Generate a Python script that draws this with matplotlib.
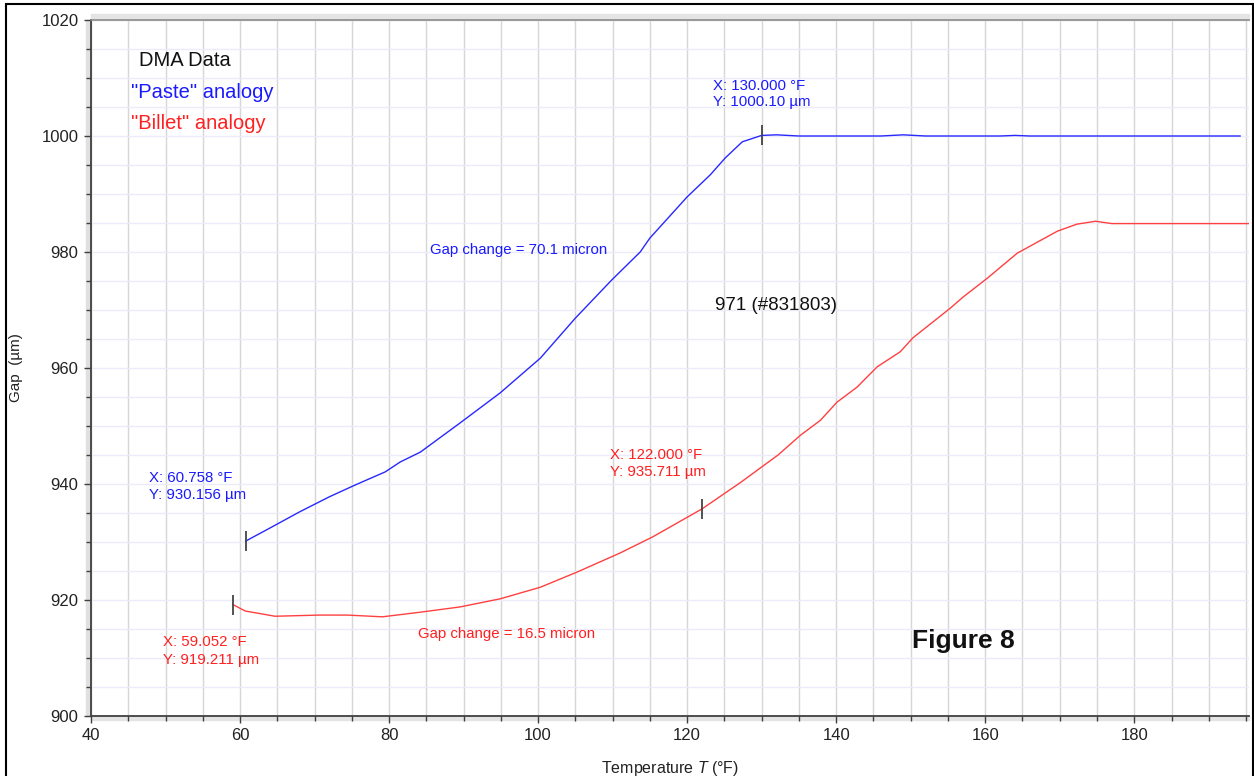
import numpy as np
import matplotlib
matplotlib.use('Agg')
import matplotlib.pyplot as plt
from matplotlib.patches import Rectangle
from matplotlib.ticker import MultipleLocator

plt.rcParams['font.family'] = ['Liberation Sans', 'DejaVu Sans']
plt.rcParams['mathtext.fontset'] = 'custom'
plt.rcParams['mathtext.rm'] = 'Liberation Sans'
plt.rcParams['mathtext.it'] = 'Liberation Sans:italic'

# "Paste" analogy (blue) - temperature in F, gap in micron
paste_t = [60.758, 64.0, 68.0, 72.0, 75.4, 79.5, 81.5, 84.2, 89.5, 94.9,
           100.3, 105.0, 109.9, 113.7, 115.0, 120.0, 123.1, 125.1, 127.4, 130.0,
           132.0, 135.0, 146.0, 149.0, 152.0, 162.0, 164.0, 166.0, 194.2]
paste_gap = [930.156, 932.4, 935.2, 937.8, 939.8, 942.1, 943.8, 945.5, 950.5, 955.7,
             961.7, 968.6, 975.2, 980.0, 982.4, 989.5, 993.3, 996.2, 999.0, 1000.10,
             1000.2, 1000.0, 1000.0, 1000.2, 1000.0, 1000.0, 1000.1, 1000.0, 1000.0]

# "Billet" analogy (red)
billet_t = [59.052, 60.7, 64.7, 70.7, 74.4, 79.1, 84.2, 89.5, 94.9, 100.3,
            105.2, 111.0, 115.4, 122.0, 127.1, 132.2, 135.2, 137.9, 140.1, 142.8,
            145.5, 148.6, 150.3, 155.3, 157.0, 160.3, 164.3, 169.7, 172.3, 174.8,
            177.0, 195.6]
billet_gap = [919.211, 918.1, 917.2, 917.4, 917.4, 917.1, 917.9, 918.8, 920.2, 922.2,
              924.8, 928.1, 930.9, 935.711, 940.2, 945.0, 948.4, 951.0, 954.1, 956.7,
              960.2, 962.8, 965.2, 970.3, 972.2, 975.5, 979.8, 983.6, 984.8, 985.3,
              984.9, 984.9]

# cursor points
paste_cursor_t = [60.758, 130.0]
paste_cursor_gap = [930.156, 1000.10]
billet_cursor_t = [59.052, 122.0]
billet_cursor_gap = [919.211, 935.711]

fig = plt.figure(figsize=(12.54, 7.76), dpi=100)
ax = fig.add_axes([91 / 1254, 60 / 776, 1158 / 1254, 696 / 776])

ax.set_xlim(40, 195.4)
ax.set_ylim(900, 1020)

ax.xaxis.set_major_locator(MultipleLocator(20))
ax.xaxis.set_minor_locator(MultipleLocator(5))
ax.yaxis.set_major_locator(MultipleLocator(20))
ax.yaxis.set_minor_locator(MultipleLocator(5))

ax.grid(which='both', axis='x', color='#d6d6d6', lw=1.0)
ax.grid(which='both', axis='y', color='#ebebfa', lw=1.0)
ax.set_axisbelow(True)

ax.tick_params(which='major', direction='out', length=5, width=1, color='#404040',
               labelsize=12, labelcolor='#222222', pad=4)
ax.tick_params(which='minor', direction='out', length=3.5, width=1, color='#404040')

for s in ['left', 'bottom']:
    ax.spines[s].set_color('#404040')
    ax.spines[s].set_linewidth(1.3)
ax.spines['right'].set_visible(False)
ax.spines['top'].set_color('#8a8a8a')
ax.spines['top'].set_linewidth(1.2)
# light shadow band at top and left
ax.add_patch(Rectangle((0, 1), 1, 0.009, transform=ax.transAxes, color='#e4e4e4',
                       clip_on=False, zorder=0))
ax.add_patch(Rectangle((-0.004, 0), 0.004, 1, transform=ax.transAxes, color='#e0e0e0',
                       clip_on=False, zorder=0))
ax.add_patch(Rectangle((0, -0.006), 1, 0.006, transform=ax.transAxes, color='#e4e4e4',
                       clip_on=False, zorder=0))

ax.plot(paste_t, paste_gap, color='#2828ff', lw=1.0)
ax.plot(billet_t, billet_gap, color='#ff4040', lw=1.0)
ax.plot(paste_cursor_t, paste_cursor_gap, ls='none', marker='|', ms=14, mew=1.3, color='#444444')
ax.plot(billet_cursor_t, billet_cursor_gap, ls='none', marker='|', ms=14, mew=1.3, color='#444444')

ax.set_xlabel(r'Temperature $T$ (°F)', fontsize=11.5, color='#222222', labelpad=11)
ax.set_ylabel('Gap  (µm)', fontsize=11, color='#222222', labelpad=13)

blue = '#1a1aff'
red = '#ff2020'
ax.text(46.4, 1013.1, 'DMA Data', fontsize=14.5, color='#111111', va='center')
ax.text(45.4, 1007.5, '"Paste" analogy', fontsize=14.5, color=blue, va='center')
ax.text(45.4, 1002.1, '"Billet" analogy', fontsize=14.5, color=red, va='center')

ann = 10.8
ax.text(123.5, 1008.6, 'X: 130.000 °F', fontsize=ann, color=blue, va='center')
ax.text(123.5, 1005.8, 'Y: 1000.10 µm', fontsize=ann, color=blue, va='center')
ax.text(85.5, 980.3, 'Gap change = 70.1 micron', fontsize=ann, color=blue, va='center')
ax.text(47.8, 941.0, 'X: 60.758 °F', fontsize=ann, color=blue, va='center')
ax.text(47.8, 938.1, 'Y: 930.156 µm', fontsize=ann, color=blue, va='center')

ax.text(109.7, 945.0, 'X: 122.000 °F', fontsize=ann, color=red, va='center')
ax.text(109.7, 942.1, 'Y: 935.711 µm', fontsize=ann, color=red, va='center')
ax.text(49.7, 912.8, 'X: 59.052 °F', fontsize=ann, color=red, va='center')
ax.text(49.7, 909.7, 'Y: 919.211 µm', fontsize=ann, color=red, va='center')
ax.text(83.9, 914.1, 'Gap change = 16.5 micron', fontsize=ann, color=red, va='center')

ax.text(123.8, 970.7, '971 (#831803)', fontsize=13.5, color='#111111', va='center')
ax.text(150.2, 912.9, 'Figure 8', fontsize=19, fontweight='bold', color='#111111', va='center')

# outer frame
fig.patches.append(Rectangle((6 / 1254, -0.01), 1247 / 1254, 1 - 4 / 776 + 0.01,
                             transform=fig.transFigure, fill=False, ec='black', lw=1.5))

fig.savefig('out.png', dpi=100)
